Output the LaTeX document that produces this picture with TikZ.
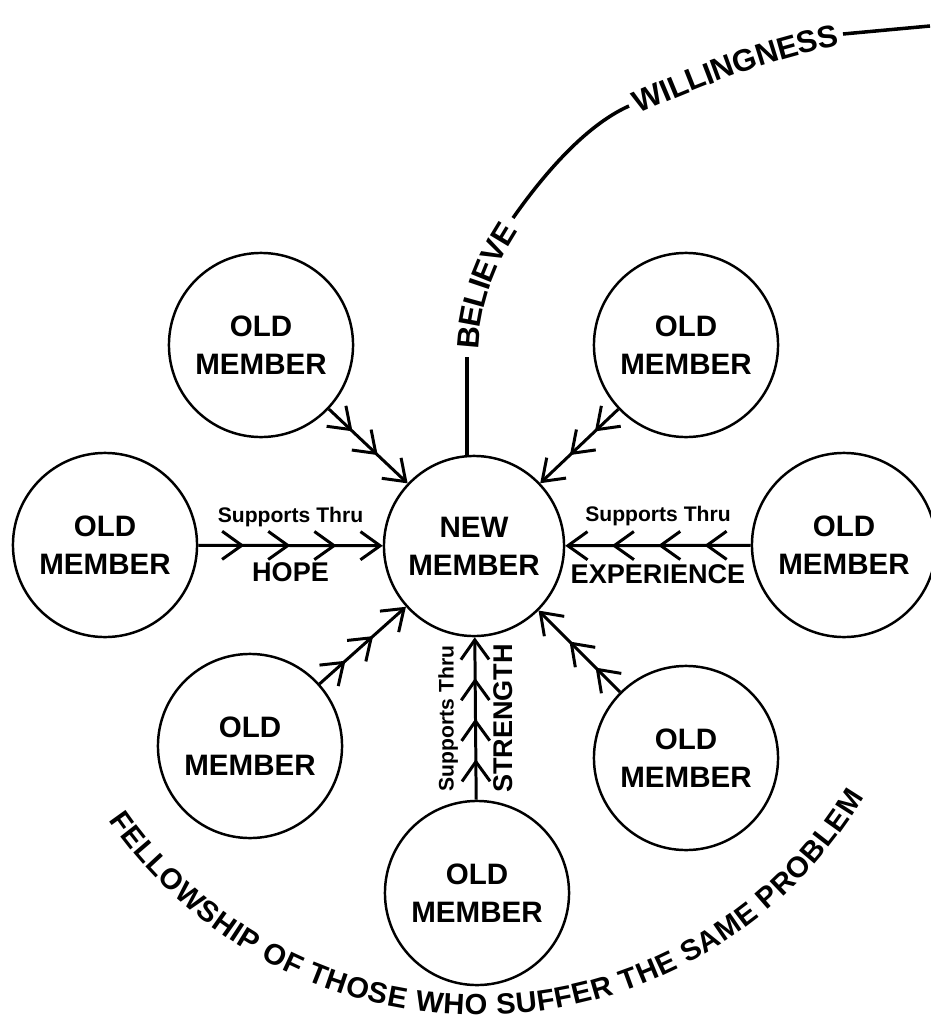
\documentclass[tikz,border=0pt]{standalone}
\usepackage{fontspec}
\setmainfont{Liberation Sans}
\usepackage{tikz}
\usetikzlibrary{arrows.meta}
\usetikzlibrary{decorations.markings}
\usetikzlibrary{decorations.text}

\newcommand\membfont{\fontsize{8.4}{10.8}\selectfont\bfseries}
\newcommand\thrufont{\fontsize{6}{7}\selectfont\bfseries}
\newcommand\waysfont{\fontsize{7.7}{9}\selectfont\bfseries}
\newcommand\pathfont{\fontsize{8.8}{10}\selectfont\bfseries}
\newcommand\rimfont{\fontsize{8.3}{10}\selectfont\bfseries}

\tikzset{
	barb/.tip={Straight Barb[length=5.6pt,width=8pt]},
	three barbs/.style={postaction={decorate, decoration={markings,
		mark=at position 0.3 with {\arrow{barb}},
		mark=at position 0.62 with {\arrow{barb}}}}},
	four barbs/.style={postaction={decorate, decoration={markings,
		mark=at position 0.25 with {\arrow{barb}},
		mark=at position 0.5 with {\arrow{barb}},
		mark=at position 0.75 with {\arrow{barb}}}}},
	thru/.style={font=\thrufont, inner sep=0pt},
	ways/.style={font=\waysfont, inner sep=0pt}
}

\begin{document}
\begin{tikzpicture}[x=0.01cm, y=-0.01cm]
				\useasboundingbox (0,0) rectangle (930,1024);
				\begin{scope}[every node/.style = {circle, draw, line width=0.7pt,
					inner sep=0pt, align=center, minimum size=1.84cm, font=\membfont}]
					\node[minimum size=1.8cm] (new) at (474,546) {NEW\\MEMBER};
					\node (tl) at (261,345) {OLD\\MEMBER};
					\node (tr) at (686,345) {OLD\\MEMBER};
					\node (lf) at (105,545) {OLD\\MEMBER};
					\node (rt) at (844,545) {OLD\\MEMBER};
					\node (bl) at (250,746) {OLD\\MEMBER};
					\node (br) at (686,758) {OLD\\MEMBER};
					\node (bt) at (477,893) {OLD\\MEMBER};
				\end{scope}
				\begin{scope}[every edge/.style={draw=black, line width=0.85pt, -barb}]
					\path (tl) edge[three barbs] (new);
					\path (tr) edge[three barbs] (new);
					\path (bl) edge[three barbs] (new);
					\path (br) edge[three barbs] (new);
					\path (lf) edge[four barbs] node[thru, above=0.17cm] {Supports Thru}
						node[ways, below=0.16cm] {HOPE} (new);
					\path (rt) edge[four barbs] node[thru, above=0.18cm] {Supports Thru}
						node[ways, below=0.18cm] {EXPERIENCE} (new);
					\path (bt) edge[four barbs]
						node[thru, xshift=-0.16cm, rotate=90, anchor=south] {Supports Thru}
						node[ways, xshift=0.17cm, rotate=90, anchor=north] {STRENGTH} (new);
				\end{scope}
				\begin{scope}[line width=1pt]
					\coordinate (b1) at (467,357);
					\coordinate (b2) at (513,218);
					\coordinate (w1) at (629,106);
					\coordinate (w2) at (843,34);
					\coordinate (rim) at (930,26);
					\draw (new.north -| b1) -- (b1);
					\path[decorate, decoration={text along path, text={|\pathfont|BELIEVE},
						text align=center, raise=-3.2pt}]
						(b1) .. controls (467,307) and (484.3,259) .. (b2);
					\draw (b2) .. controls (540.6,178.7) and (583.3,126.4) .. (w1);
					\path[decorate, decoration={text along path, text={|\pathfont|WILLINGNESS},
						text align=center, raise=-3.2pt}]
						(w1) .. controls (693,77.5) and (773.8,44.9) .. (w2);
					\draw (w2) -- (rim);
				\end{scope}
				\coordinate (fellow) at (109,820.3);
				\path[decorate, decoration={text along path,
					text={|\rimfont|FELLOWSHIP OF THOSE WHO SUFFER THE SAME PROBLEM},
					text align={fit to path}}]
					(fellow) arc[start angle=145.5, end angle=31, radius=449];
			\end{tikzpicture}
\end{document}
